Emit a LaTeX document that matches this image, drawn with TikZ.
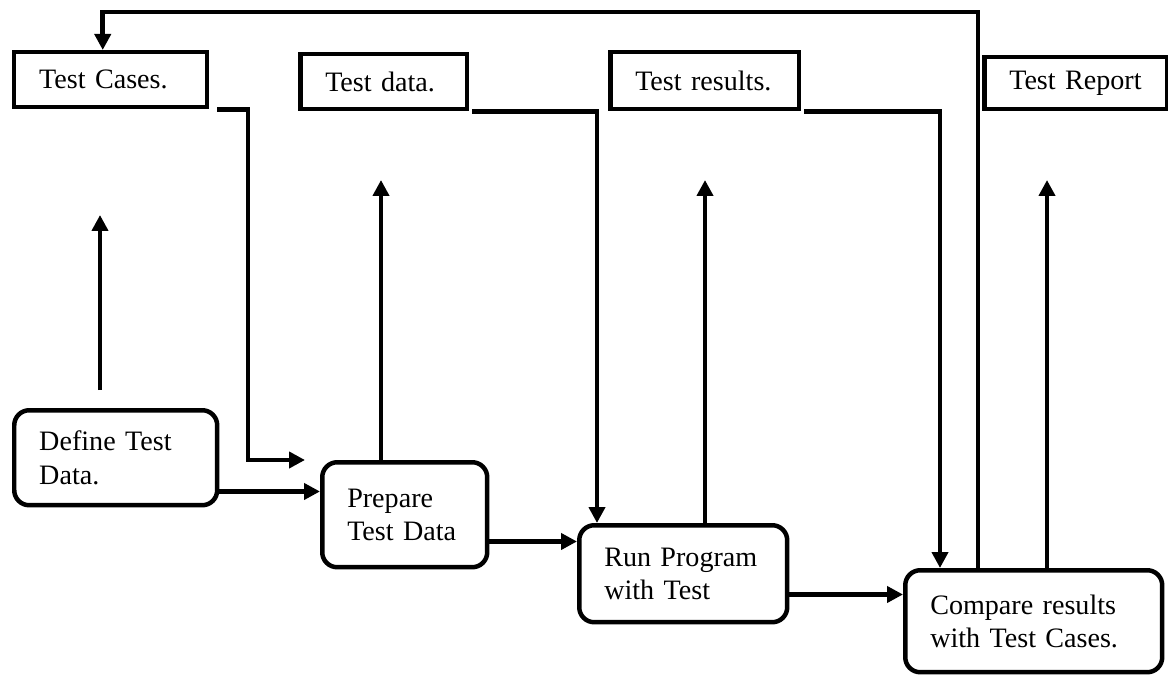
\documentclass[tikz,border=0pt]{standalone}
\usepackage{fontspec}
\setmainfont{Liberation Serif}
\usetikzlibrary{arrows.meta,positioning}

\begin{document}
\begin{tikzpicture}[
  x=0.02cm, y=-0.02cm,
  font=\fontsize{16}{19}\selectfont,
  box/.style={draw, line width=0.09cm, anchor=north west, align=left, inner xsep=0.5cm, inner ysep=0pt},
  proc/.style={box, rounded corners=0.3cm},
  arr/.style={-{Triangle[length=0.32cm, width=0.32cm]}, line width=0.09cm}]

\useasboundingbox (0,0) rectangle (1168,675);

% outputs along the top
\node[box, text width=2.86cm, minimum height=1.1cm] (cases) at (12,50) {Test Cases.};
\node[box, text width=2.34cm, minimum height=1.1cm] (data) at (298,52) {Test data.};
\node[box, text width=2.78cm, minimum height=1.14cm] (results) at (608,50) {Test results.};
\node[box, text width=2.66cm, minimum height=1.04cm] (report) at (982,55) {Test Report};

% process steps
\node[proc, text width=3.06cm, minimum height=1.9cm] (def) at (12,408) {Define Test\\ Data.};
\node[proc, text width=2.3cm, minimum height=2.1cm] (prep) at (320,460) {Prepare\\ Test Data};
\node[proc, text width=3.16cm, minimum height=1.94cm] (run) at (577,523) {Run Program\\ with Test};
\node[proc, text width=4.14cm, minimum height=2.04cm] (cmp) at (903,568) {Compare results\\ with Test Cases.};

\coordinate (casesfrom) at (100,390);
\coordinate (casesup) at (100,215);
\coordinate (dataup) at (381,180);
\coordinate (resultsup) at (705,180);
\coordinate (reportup) at (1047,180);
\coordinate (fb) at (978,12);
\coordinate (casesbend) at (248,460);
\coordinate (d2p) at ([yshift=0.32cm]def.south east);
\coordinate (p2r) at ([yshift=0.56cm]prep.south east);
\coordinate (r2c) at ([yshift=0.6cm]run.south east);

% step to step
\draw[arr] (d2p) -- (d2p -| prep.west);
\draw[arr] (p2r) -- (p2r -| run.west);
\draw[arr] (r2c) -- (r2c -| cmp.west);

% steps up to their outputs
\draw[arr] (casesfrom) -- (casesup);
\draw[arr] (prep.north -| dataup) -- (dataup);
\draw[arr] (run.north -| resultsup) -- (resultsup);
\draw[arr] (cmp.north -| reportup) -- (reportup);

% outputs down into the next step
\draw[arr] ([xshift=0.16cm]cases.south east) -| (casesbend) -- ([xshift=-0.3cm]prep.north west);
\draw[arr] ([xshift=0.06cm]data.south east) -| ([xshift=0.4cm]run.north west);
\draw[arr] ([xshift=0.06cm]results.south east) -| ([xshift=0.74cm]cmp.north west);

% feedback to the test cases
\draw[arr] (fb |- cmp.north) -- (fb) -| ([xshift=-0.16cm]cases.north);
\end{tikzpicture}
\end{document}
